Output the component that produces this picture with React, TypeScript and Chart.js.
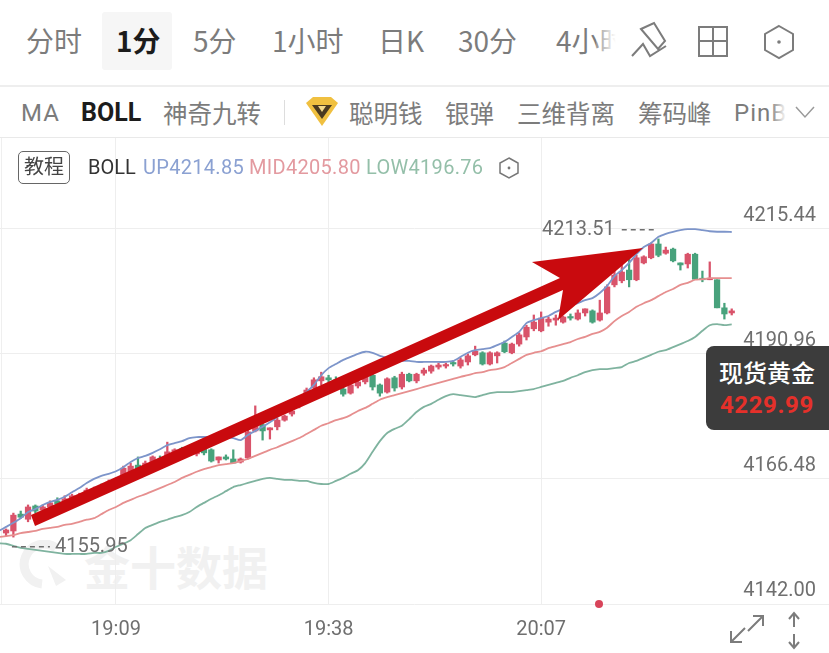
import React, { useEffect, useRef } from "react";
import { Chart, registerables } from "chart.js";

Chart.register(...registerables);

// Candles: one per minute, starting at index 0 (18:54)
const opens = [4155.9,4156.3,4159.6,4158.6,4161.2,4160.4,4161.0,4162.2,4161.8,4162.4,4162.6,4163.5,4163.9,4165.1,4165.1,4165.5,4166.7,4167.1,4169.2,4168.8,4169.2,4170.4,4170.6,4171.0,4172.4,4171.6,4171.4,4172.4,4172.2,4170.2,4170.8,4170.4,4169.8,4170.6,4175.9,4177.1,4176.1,4176.7,4178.0,4179.2,4180.8,4182.3,4184.3,4185.7,4186.3,4185.9,4184.1,4183.3,4184.7,4185.5,4186.8,4184.9,4183.5,4186.3,4184.5,4187.0,4185.7,4187.2,4187.6,4188.4,4188.6,4189.2,4188.6,4189.4,4190.8,4191.2,4189.0,4190.6,4193.1,4191.2,4192.9,4194.3,4195.9,4195.5,4197.2,4197.6,4197.2,4198.2,4197.8,4199.0,4199.4,4197.6,4199.0,4204.5,4205.3,4207.4,4205.5,4208.8,4209.8,4212.5,4210.7,4211.5,4208.8,4208.6,4210.5,4205.8,4205.5,4205.5,4200.0,4199.0];
const highs = [4156.7,4159.8,4160.2,4161.4,4161.4,4161.4,4162.2,4162.8,4163.2,4163.5,4163.7,4164.7,4164.9,4165.5,4166.3,4166.7,4169.0,4169.6,4170.8,4170.0,4171.0,4171.0,4173.7,4172.4,4172.7,4172.6,4172.4,4172.7,4172.4,4170.8,4171.2,4172.2,4170.6,4176.1,4180.8,4177.6,4176.5,4178.4,4179.0,4180.0,4182.3,4184.3,4186.3,4187.4,4186.8,4186.5,4184.5,4185.1,4185.7,4187.0,4187.0,4185.1,4186.3,4186.6,4187.4,4187.2,4187.2,4188.2,4188.8,4189.2,4189.2,4189.6,4190.2,4191.0,4192.5,4191.4,4191.4,4191.4,4193.5,4193.1,4195.1,4196.6,4198.6,4199.2,4198.2,4198.6,4198.4,4198.8,4199.6,4199.8,4199.6,4201.5,4204.5,4207.4,4208.4,4209.8,4210.3,4210.2,4212.7,4213.5,4211.9,4211.7,4208.8,4210.7,4210.7,4207.2,4209.0,4205.5,4200.9,4199.8];
const lows = [4155.3,4155.1,4158.8,4158.1,4159.8,4159.8,4160.6,4161.0,4161.4,4162.0,4162.2,4163.2,4163.5,4164.1,4164.7,4165.3,4166.3,4166.7,4167.7,4168.4,4168.8,4168.8,4170.2,4170.6,4171.0,4171.2,4171.0,4171.2,4169.8,4169.6,4170.2,4169.6,4169.6,4170.4,4175.7,4174.1,4174.3,4176.1,4177.8,4178.8,4180.4,4182.0,4183.9,4184.9,4185.5,4184.7,4182.7,4183.1,4184.3,4185.1,4183.9,4182.7,4183.3,4183.7,4184.1,4185.5,4185.3,4186.8,4187.2,4188.0,4188.2,4188.6,4188.2,4188.8,4190.6,4188.8,4188.8,4189.2,4191.2,4191.0,4192.5,4193.7,4195.5,4195.3,4196.4,4196.6,4197.0,4197.6,4197.6,4198.4,4197.0,4197.4,4198.8,4204.1,4204.9,4204.1,4205.3,4208.6,4209.6,4210.0,4210.5,4209.0,4207.4,4207.8,4205.6,4205.1,4205.5,4200.0,4197.8,4198.6];
const closes = [4156.5,4159.4,4159.0,4161.0,4160.2,4161.0,4161.8,4161.6,4162.6,4163.2,4163.3,4164.3,4164.5,4164.3,4165.9,4166.3,4168.6,4169.0,4168.2,4169.6,4170.8,4169.2,4171.8,4172.2,4171.4,4172.4,4172.0,4171.6,4170.0,4170.8,4170.4,4169.6,4170.4,4175.7,4176.9,4175.9,4176.5,4178.0,4178.8,4179.8,4182.0,4183.9,4185.9,4186.5,4185.9,4185.3,4183.1,4184.9,4185.5,4186.6,4184.5,4183.3,4186.1,4184.3,4187.0,4185.7,4187.0,4187.8,4188.6,4188.8,4188.8,4189.0,4189.8,4190.6,4191.5,4189.0,4191.2,4191.2,4191.4,4192.9,4194.7,4196.2,4197.2,4198.0,4197.8,4198.0,4198.2,4198.0,4199.0,4199.8,4197.2,4199.0,4204.1,4206.4,4207.0,4205.5,4209.8,4210.0,4212.5,4210.3,4211.3,4209.2,4208.4,4210.5,4205.6,4205.5,4205.8,4200.0,4198.8,4199.4];

// Bollinger bands: first value belongs to index -1 (just left of the view)
const bandUp = [4156.3,4157.1,4157.9,4158.8,4160.0,4160.6,4161.4,4162.0,4162.4,4163.0,4163.9,4164.7,4165.7,4166.5,4167.1,4167.5,4168.0,4168.8,4169.8,4170.6,4171.0,4171.6,4172.3,4173.1,4173.5,4173.9,4174.5,4174.7,4174.7,4174.7,4174.7,4174.7,4174.5,4174.1,4175.1,4175.9,4176.7,4177.6,4178.6,4180.0,4181.2,4182.3,4183.5,4184.9,4186.8,4188.2,4189.0,4189.8,4190.4,4191.0,4191.4,4191.2,4190.6,4190.2,4189.8,4189.6,4189.6,4189.4,4189.4,4189.4,4189.4,4189.4,4189.6,4190.4,4191.2,4191.7,4191.9,4192.1,4192.7,4193.3,4194.3,4195.3,4197.0,4197.6,4198.0,4198.4,4199.2,4199.8,4200.4,4200.9,4201.5,4201.9,4202.9,4204.3,4206.2,4207.4,4208.8,4210.5,4211.9,4212.7,4213.9,4214.5,4214.9,4215.2,4215.4,4215.4,4215.2,4215.0,4214.9,4214.9,4214.85];
const bandMid = [4155.1,4155.3,4155.5,4155.9,4156.1,4156.3,4156.7,4156.9,4157.1,4157.5,4157.7,4158.1,4158.5,4158.8,4159.6,4160.4,4161.0,4161.8,4162.4,4163.0,4163.5,4164.1,4164.7,4165.3,4165.9,4166.7,4167.3,4167.9,4168.4,4168.8,4169.2,4169.4,4169.6,4170.0,4170.4,4171.0,4171.6,4172.2,4172.7,4173.3,4173.9,4174.5,4175.3,4176.1,4176.9,4177.4,4178.0,4178.4,4179.0,4179.8,4180.4,4181.2,4182.0,4182.5,4182.9,4183.3,4183.7,4184.1,4184.5,4184.9,4185.3,4185.7,4186.1,4186.5,4186.8,4187.2,4187.4,4187.8,4188.0,4188.4,4189.2,4190.0,4190.8,4191.2,4191.5,4192.1,4192.5,4192.9,4193.3,4193.9,4194.3,4194.9,4195.3,4196.1,4197.4,4198.4,4199.2,4200.2,4200.9,4201.5,4202.3,4203.1,4203.7,4204.5,4204.9,4205.5,4205.6,4205.8,4205.8,4205.8,4205.8];
const bandLow = [4153.9,4153.8,4153.4,4153.0,4152.8,4152.6,4152.4,4152.2,4152.0,4151.8,4151.8,4151.8,4151.8,4152.0,4152.0,4152.4,4153.2,4153.8,4154.5,4155.7,4156.9,4157.5,4158.1,4158.5,4159.0,4159.4,4160.0,4161.0,4161.8,4162.6,4163.3,4164.1,4164.9,4165.3,4165.7,4166.1,4166.5,4166.7,4166.5,4166.3,4166.3,4166.1,4166.1,4165.7,4165.5,4165.5,4166.1,4166.7,4167.5,4168.2,4169.6,4171.8,4173.9,4175.5,4176.3,4176.9,4178.2,4179.6,4180.6,4181.2,4182.0,4182.7,4183.1,4182.9,4182.7,4182.5,4182.9,4183.3,4183.5,4183.5,4183.5,4183.7,4183.9,4184.1,4184.5,4184.9,4185.3,4185.7,4186.3,4186.8,4187.4,4187.8,4188.0,4188.0,4188.2,4188.4,4189.2,4189.6,4190.2,4190.8,4191.4,4191.7,4192.3,4192.9,4193.5,4194.3,4195.5,4196.6,4196.8,4196.6,4196.76];

// Axis ticks
const timeTickIndex = [15, 44, 73];
const timeTickLabels = ["19:09", "19:38", "20:07"];
const priceTicks = [4142.0, 4166.48, 4190.96, 4215.44];

// Hand-drawn red arrow outline, in (minute index, price)
const arrowIndex = [3.4, 75.57, 71.75, 86.9, 75.3, 75.98, 3.95];
const arrowPrice = [4159.43, 4205.84, 4208.98, 4211.72, 4197.62, 4203.5, 4157.28];

// Extreme-price callouts
const highCallout = { label: "4213.51", index: 88.5, at: 4215.3 };
const lowCallout = { label: "4155.95", index: 0.8, at: 4153.2 };

const RED = "#d9536a";
const GREEN = "#48a27c";
const GREY = "#6f6f6f";
const NUM = "Roboto, sans-serif";
const CJK = '"Noto Sans CJK SC", sans-serif';

const overlayPlugin = {
  id: "overlay",
  afterDatasetsDraw(chart: any) {
    const { ctx, scales } = chart;
    const x = scales.x;
    const y = scales.y;
    ctx.save();
    // callouts
    ctx.fillStyle = GREY;
    ctx.strokeStyle = GREY;
    ctx.font = `20px ${NUM}`;
    ctx.textBaseline = "middle";
    ctx.lineWidth = 1.5;
    ctx.setLineDash([5, 4]);
    const hx = x.getPixelForValue(highCallout.index);
    const hy = y.getPixelForValue(highCallout.at);
    ctx.beginPath();
    ctx.moveTo(hx - 33, hy);
    ctx.lineTo(hx, hy);
    ctx.stroke();
    ctx.textAlign = "right";
    ctx.fillText(highCallout.label, hx - 40, hy);
    const lx = x.getPixelForValue(lowCallout.index);
    const ly = y.getPixelForValue(lowCallout.at);
    ctx.beginPath();
    ctx.moveTo(lx, ly);
    ctx.lineTo(lx + 38, ly);
    ctx.stroke();
    ctx.setLineDash([]);
    ctx.textAlign = "left";
    ctx.fillText(lowCallout.label, lx + 43, ly);
    // arrow
    ctx.fillStyle = "#c90a0e";
    ctx.beginPath();
    arrowIndex.forEach((v, i) => {
      const px = x.getPixelForValue(v);
      const py = y.getPixelForValue(arrowPrice[i]);
      if (i === 0) ctx.moveTo(px, py);
      else ctx.lineTo(px, py);
    });
    ctx.closePath();
    ctx.fill();
    ctx.restore();
  },
};

function txt(left: number, top: number, content: string, style: React.CSSProperties = {}) {
  return (
    <span
      style={{
        position: "absolute",
        left,
        top,
        whiteSpace: "nowrap",
        lineHeight: 1,
        fontFamily: CJK,
        color: "#7c7c7c",
        ...style,
      }}
    >
      {content}
    </span>
  );
}

export default function App() {
  const ref = useRef<HTMLCanvasElement | null>(null);

  useEffect(() => {
    document.body.style.margin = "0";
    const candleColors = closes.map((c, i) => (c >= opens[i] ? RED : GREEN));
    const bandPoints = (vals: number[]) => vals.map((v, i) => ({ x: i - 1, y: v }));
    const chart = new Chart(ref.current as HTMLCanvasElement, {
      type: "bar",
      data: {
        datasets: [
          {
            type: "bar",
            label: "wick",
            data: highs.map((h, i) => ({ x: i, y: [lows[i], h] })) as any,
            backgroundColor: candleColors,
            barThickness: 1.6,
            grouped: false,
            order: 4,
          },
          {
            type: "bar",
            label: "body",
            data: opens.map((o, i) => ({ x: i, y: [o, closes[i]] })) as any,
            backgroundColor: candleColors,
            barThickness: 5.6,
            minBarLength: 1.5,
            grouped: false,
            order: 3,
          },
          { type: "line", label: "UP", data: bandPoints(bandUp), borderColor: "#7d95ca", borderWidth: 1.8, pointRadius: 0, tension: 0.2, order: 2 },
          { type: "line", label: "MID", data: bandPoints(bandMid), borderColor: "#e68f8f", borderWidth: 1.8, pointRadius: 0, tension: 0.2, order: 2 },
          { type: "line", label: "LOW", data: bandPoints(bandLow), borderColor: "#7fb39f", borderWidth: 1.8, pointRadius: 0, tension: 0.2, order: 2 },
        ] as any,
      },
      options: {
        animation: false,
        responsive: false,
        maintainAspectRatio: false,
        layout: { padding: 0 },
        plugins: { legend: { display: false }, tooltip: { enabled: false } },
        scales: {
          x: {
            type: "linear",
            min: -0.825,
            max: 112.27,
            offset: false,
            border: { display: false },
            grid: { color: "#eeeeee", lineWidth: 1, drawTicks: false, offset: false },
            afterBuildTicks: (s: any) => {
              s.ticks = timeTickIndex.map((value) => ({ value }));
            },
            afterFit: (s: any) => {
              s.height = 49;
              s.paddingLeft = 0;
              s.paddingRight = 0;
            },
            ticks: {
              color: GREY,
              autoSkip: false,
              maxRotation: 0,
              padding: 14,
              font: { family: "Roboto", size: 20 },
              callback: (v: any) => timeTickLabels[timeTickIndex.indexOf(v)],
            },
          },
          y: {
            type: "linear",
            position: "right",
            min: 4142,
            max: 4233.26,
            border: { display: false },
            grid: { color: "#eeeeee", lineWidth: 1, drawTicks: false },
            afterBuildTicks: (s: any) => {
              s.ticks = priceTicks.map((value) => ({ value }));
            },
            afterFit: (s: any) => {
              s.width = 0;
              s.paddingTop = 0;
              s.paddingBottom = 0;
            },
            ticks: {
              mirror: true,
              color: GREY,
              padding: -13,
              font: { family: "Roboto", size: 20, lineHeight: 26 / 20 },
              callback: (v: any) => [Number(v).toFixed(2), ""],
            },
          },
        },
      } as any,
      plugins: [overlayPlugin as any],
    });
    return () => chart.destroy();
  }, []);

  const stroke = { fill: "none", stroke: "#7c7c7c", strokeWidth: 2 } as const;

  return (
    <div style={{ position: "absolute", left: 0, top: 0, width: 829, height: 653, background: "#fff", overflow: "hidden" }}>
      {/* top tab row */}
      <div style={{ position: "absolute", left: 102, top: 12, width: 70, height: 58, background: "#f6f6f6", borderRadius: 3 }} />
      {txt(26, 26, "分时", { fontSize: 28 })}
      {txt(116, 26, "1分", { fontSize: 28, fontWeight: 700, color: "#1c1c1c" })}
      {txt(193, 26, "5分", { fontSize: 28 })}
      {txt(272, 26, "1小时", { fontSize: 28 })}
      {txt(378, 26, "日K", { fontSize: 28 })}
      {txt(458, 26, "30分", { fontSize: 28 })}
      {txt(556, 26, "4小时", { fontSize: 28 })}
      <div style={{ position: "absolute", left: 596, top: 15, width: 36, height: 55, background: "linear-gradient(to right, rgba(255,255,255,0.2), #fff 55%)" }} />
      <svg style={{ position: "absolute", left: 0, top: 0 }} width="829" height="90">
        <path d="M641 29 L654 23 L665 41 L658 49 Z M632 56 L643 44 L650 56 L666 46" {...stroke} />
        <rect x="699" y="27" width="28" height="29" {...stroke} />
        <path d="M713 27 V56 M699 41 H727" {...stroke} />
        <path d="M779 26 L793 34 V50 L779 58 L765 50 V34 Z" {...stroke} />
        <circle cx="779" cy="42" r="1.8" fill="#7c7c7c" />
      </svg>
      <div style={{ position: "absolute", left: 0, top: 85, width: 829, height: 2, background: "#eeeeee" }} />

      {/* indicator row */}
      {txt(21, 101, "MA", { fontSize: 24, fontFamily: NUM, letterSpacing: 1 })}
      {txt(81, 100, "BOLL", { fontSize: 25, fontFamily: NUM, fontWeight: 700, color: "#1c1c1c" })}
      {txt(163, 101, "神奇九转", { fontSize: 24.5 })}
      <div style={{ position: "absolute", left: 284, top: 100, width: 1, height: 25, background: "#dddddd" }} />
      <svg style={{ position: "absolute", left: 304, top: 96 }} width="36" height="34">
        <path d="M2 7 L9 1 H27 L34 7 L18 30 Z" fill="#f0c040" />
        <path d="M8 9 H28 L18 23 Z" fill="#4a3a20" />
        <path d="M14 10 H22 L18 16 Z" fill="#f3d98a" />
      </svg>
      {txt(349, 101, "聪明钱", { fontSize: 24.5 })}
      {txt(445, 101, "银弹", { fontSize: 24.5 })}
      {txt(517, 101, "三维背离", { fontSize: 24.5 })}
      {txt(638, 101, "筹码峰", { fontSize: 24.5 })}
      {txt(734, 101, "PinBar", { fontSize: 24, fontFamily: NUM, letterSpacing: 1 })}
      <div style={{ position: "absolute", left: 770, top: 95, width: 59, height: 36, background: "linear-gradient(to right, rgba(255,255,255,0), #fff 28%)" }} />
      <svg style={{ position: "absolute", left: 794, top: 105 }} width="24" height="16">
        <path d="M2 2 L11 12 L20 2" fill="none" stroke="#9a9a9a" strokeWidth="1.5" />
      </svg>
      <div style={{ position: "absolute", left: 0, top: 137, width: 829, height: 1, background: "#e9e9e9" }} />
      <div style={{ position: "absolute", left: 1, top: 138, width: 1, height: 466, background: "#efefef" }} />

      {/* watermark, under the canvas */}
      {txt(84, 542, "金十数据", { fontSize: 46, fontWeight: 700, color: "#f1f1f1", letterSpacing: 0 })}
      <svg style={{ position: "absolute", left: 18, top: 540 }} width="52" height="50">
        <path d="M38 8 A20 20 0 1 0 24 44" fill="none" stroke="#f1f1f1" strokeWidth="9" />
        <path d="M30 26 L48 40 L38 46 Z" fill="#f1f1f1" />
      </svg>

      <canvas ref={ref} width={829} height={515} style={{ position: "absolute", left: 0, top: 138, display: "block" }} />

      {/* legend row */}
      <div style={{ position: "absolute", left: 18, top: 151, width: 50, height: 31, border: "1px solid #666", borderRadius: 5, background: "#fff" }} />
      {txt(24, 156, "教程", { fontSize: 20, color: "#444" })}
      {txt(88, 157, "BOLL", { fontSize: 20, fontFamily: NUM, color: "#333" })}
      {txt(143, 157, "UP4214.85", { fontSize: 20, fontFamily: NUM, color: "#8ba1d2", letterSpacing: 0.3 })}
      {txt(249, 157, "MID4205.80", { fontSize: 20, fontFamily: NUM, color: "#e39aa0", letterSpacing: 0.3 })}
      {txt(366, 157, "LOW4196.76", { fontSize: 20, fontFamily: NUM, color: "#94bfa9", letterSpacing: 0.3 })}
      <svg style={{ position: "absolute", left: 498, top: 156 }} width="22" height="24">
        <path d="M11 2 L20 7 V17 L11 22 L2 17 V7 Z" fill="none" stroke="#777" strokeWidth="1.5" />
        <circle cx="11" cy="12" r="1.4" fill="#777" />
      </svg>

      {/* current price tag */}
      <div style={{ position: "absolute", left: 706, top: 346, width: 123, height: 84, background: "#3c3c3c", borderRadius: "8px 0 0 8px" }} />
      {txt(719, 360, "现货黄金", { fontSize: 24, color: "#ffffff", fontWeight: 500 })}
      {txt(720, 393, "4229.99", { fontSize: 24, fontFamily: NUM, fontWeight: 700, color: "#e5302a", letterSpacing: 0.6 })}

      {/* live marker */}
      <div style={{ position: "absolute", left: 595, top: 600, width: 8, height: 8, borderRadius: 4, background: "#d8445a" }} />

      {/* corner controls */}
      <svg style={{ position: "absolute", left: 725, top: 610 }} width="90" height="40">
        <g fill="none" stroke="#7c7c7c" strokeWidth="2">
          <path d="M23 21 L37 7 M28 6 H38 V16" />
          <path d="M7 31 L20 18 M6 21 V32 H17" />
          <path d="M69 4 V17 M64 9 L69 3 L74 9" />
          <path d="M69 24 V37 M64 32 L69 38 L74 32" />
        </g>
      </svg>
    </div>
  );
}
